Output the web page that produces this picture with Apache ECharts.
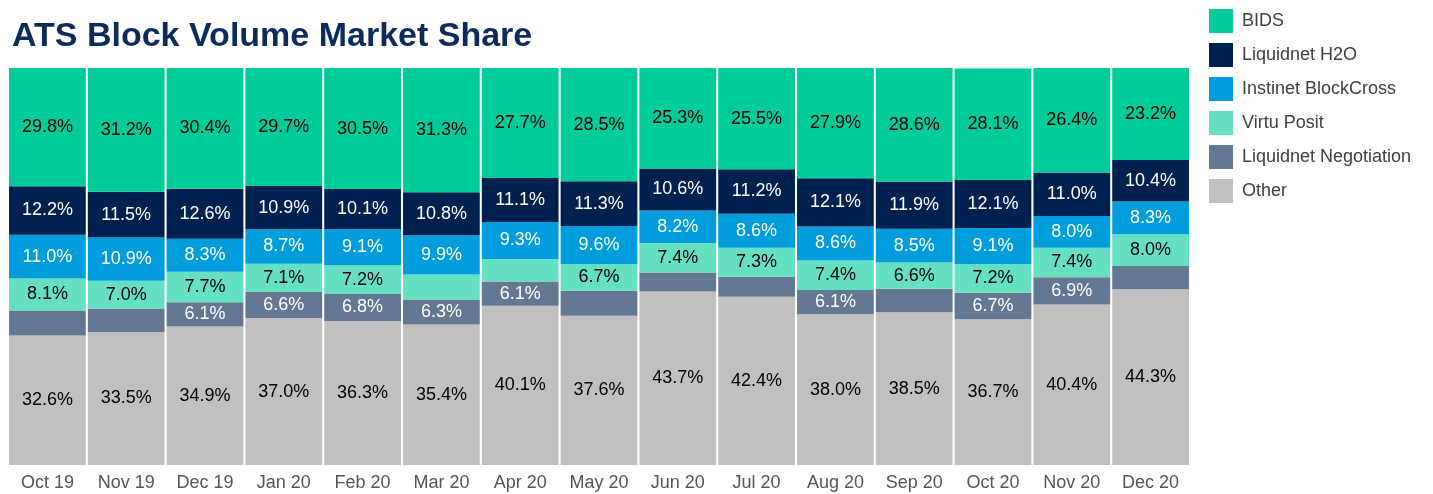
<!DOCTYPE html>
<html><head><meta charset="utf-8">
<script src="https://cdn.jsdelivr.net/npm/echarts@6/dist/echarts.min.js"></script>
<style>html,body{margin:0;padding:0;background:#fff}#c{width:1433px;height:494px}</style>
</head><body><div id="c"></div>
<script>
const categories = ['Oct 19','Nov 19','Dec 19','Jan 20','Feb 20','Mar 20','Apr 20','May 20','Jun 20','Jul 20','Aug 20','Sep 20','Oct 20','Nov 20','Dec 20'];
const other       = [32.6,33.5,34.9,37.0,36.3,35.4,40.1,37.6,43.7,42.4,38.0,38.5,36.7,40.4,44.3];
const lnNegot     = [6.3,5.9,6.1,6.6,6.8,6.3,6.1,6.3,4.8,5.0,6.1,5.9,6.7,6.9,5.8];
const virtuPosit  = [8.1,7.0,7.7,7.1,7.2,6.3,5.7,6.7,7.4,7.3,7.4,6.6,7.2,7.4,8.0];
const instinet    = [11.0,10.9,8.3,8.7,9.1,9.9,9.3,9.6,8.2,8.6,8.6,8.5,9.1,8.0,8.3];
const h2o         = [12.2,11.5,12.6,10.9,10.1,10.8,11.1,11.3,10.6,11.2,12.1,11.9,12.1,11.0,10.4];
const bids        = [29.8,31.2,30.4,29.7,30.5,31.3,27.7,28.5,25.3,25.5,27.9,28.6,28.1,26.4,23.2];
// months (index) whose label is not printed in the reference
const lnNegotUnlabeled = [0,1,7,8,9,11,14];
const virtuUnlabeled = [5,6];

const FONT = '"Liberation Sans", Arial, sans-serif';
const seriesDefs = [
  {name:'Other', data:other, color:'#bfc0bf', text:'#000', hide:[]},
  {name:'Liquidnet Negotiation', data:lnNegot, color:'#647894', text:'#fff', hide:lnNegotUnlabeled},
  {name:'Virtu Posit', data:virtuPosit, color:'#66e0c2', text:'#000', hide:virtuUnlabeled},
  {name:'Instinet BlockCross', data:instinet, color:'#009ddc', text:'#fff', hide:[]},
  {name:'Liquidnet H2O', data:h2o, color:'#002050', text:'#fff', hide:[]},
  {name:'BIDS', data:bids, color:'#00cc99', text:'#000', hide:[]}
];

const chart = echarts.init(document.getElementById('c'));
chart.setOption({
  animation:false,
  title:{text:'ATS Block Volume Market Share', left:7, top:15,
    textStyle:{fontFamily:FONT, fontWeight:'bold', fontSize:34, color:'#0d2a5c'}},
  legend:{orient:'vertical', left:1204, top:4, itemWidth:24, itemHeight:24, itemGap:10,
    icon:'rect',
    data:['BIDS','Liquidnet H2O','Instinet BlockCross','Virtu Posit','Liquidnet Negotiation','Other'],
    textStyle:{fontFamily:FONT, fontSize:18, color:'#404040', padding:[0,0,0,4]}},
  grid:{left:8, right:243, top:68, bottom:29},
  xAxis:{type:'category', data:categories,
    axisLine:{show:false}, axisTick:{show:false},
    axisLabel:{fontFamily:FONT, fontSize:18, color:'#555', margin:9}},
  yAxis:{type:'value', min:0, max:100, show:false},
  series: seriesDefs.map(s => ({
    name:s.name, type:'bar', stack:'total', barCategoryGap:'2.6%',
    itemStyle:{color:s.color},
    label:{show:true, position:'inside', fontFamily:FONT, fontSize:18, color:s.text,
      formatter:p => p.value.toFixed(1) + '%'},
    data:s.data.map((v,i) => s.hide.includes(i) ? {value:v, label:{show:false}} : v)
  }))
});
</script></body></html>
